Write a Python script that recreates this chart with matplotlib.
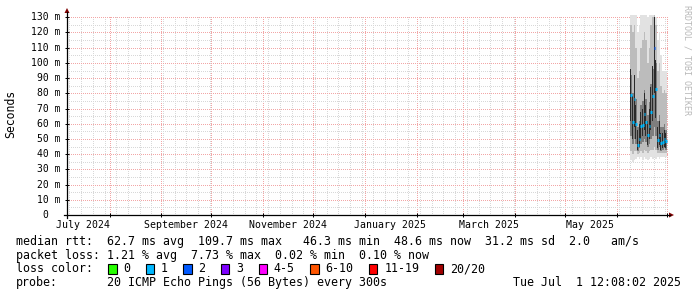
import datetime as dt
import numpy as np
import matplotlib
matplotlib.use('Agg')
import matplotlib.pyplot as plt
import matplotlib.dates as mdates
from matplotlib.lines import Line2D
from matplotlib.patches import Polygon, Rectangle

W, H = 697, 297

# --- data: one smoke column per day (values in ms) ---
days = ['2025-06-09', '2025-06-10', '2025-06-11', '2025-06-12', '2025-06-13',
        '2025-06-14', '2025-06-15', '2025-06-16', '2025-06-17', '2025-06-18',
        '2025-06-19', '2025-06-20', '2025-06-21', '2025-06-22', '2025-06-23',
        '2025-06-24', '2025-06-25', '2025-06-26', '2025-06-27', '2025-06-28',
        '2025-06-29', '2025-06-30']
median = [79, 61, 76, 60, 46, 50, 58.5, 59.5, 66.5, 61, 52.5,
          58.5, 68, 78, 109.7, 83, 49, 52.5, 47.5, 48, 50, 48.6]
ping_min = [36, 35, 36, 37, 38, 37, 38, 36, 38, 37, 36,
            37, 38, 37, 38, 37, 38, 37, 38, 38, 38, 38]
ping_p10 = [42, 40, 42, 42, 40, 41, 42, 41, 43, 42, 41,
            42, 43, 43, 45, 43, 41, 41, 41, 41, 41, 41]
ping_p25 = [52, 47, 50, 47, 42, 44, 47, 48, 50, 48, 45,
            47, 50, 52, 58, 52, 43, 45, 42, 43, 44, 43]
ping_p75 = [92, 80, 90, 76, 58, 62, 72, 75, 82, 76, 66,
            74, 86, 96, 125, 100, 62, 66, 58, 58, 60, 56]
ping_p90 = [125, 120, 125, 110, 90, 95, 110, 115, 120, 115, 100,
            110, 125, 130, 140, 125, 95, 100, 85, 80, 82, 80]
ping_max = [140, 140, 140, 135, 120, 125, 140, 140, 140, 140, 130,
            140, 140, 140, 140, 130, 115, 120, 105, 95, 95, 95]
core_lo = [62, 50, 58, 50, 43, 45, 50, 52, 56, 52, 46,
           50, 56, 62, 80, 64, 44, 46, 43, 44, 45, 44]
core_hi = [96, 78, 92, 72, 56, 60, 68, 70, 80, 72, 62,
           70, 84, 98, 130, 102, 58, 62, 54, 54, 56, 54]
lost = [1, 1, 1, 1, 1, 1, 1, 1, 1, 1, 1,
        1, 1, 1, 2, 1, 1, 1, 1, 1, 1, 1]

loss_labels = ['0', '1', '2', '3', '4-5', '6-10', '11-19', '20/20']
loss_colors = ['#26ff00', '#00b8ff', '#0059ff', '#7e00ff',
               '#ff00ff', '#ff5500', '#ff0000', '#a00000']

y_major = [10, 20, 30, 40, 50, 60, 70, 80, 90, 100, 110, 120, 130]
y_minor = [5, 15, 25, 35, 45, 55, 65, 75, 85, 95, 105, 115, 125]
y_labels = [0, 10, 20, 30, 40, 50, 60, 70, 80, 90, 100, 110, 120, 130]
month_labels = ['July 2024', 'September 2024', 'November 2024',
                'January 2025', 'March 2025', 'May 2025']
month_label_dates = ['2024-07-16', '2024-09-16', '2024-11-16',
                     '2025-01-16', '2025-03-16', '2025-05-16']

stats_line = 'median rtt:  62.7 ms avg  109.7 ms max   46.3 ms min  48.6 ms now  31.2 ms sd  2.0   am/s'
loss_line = 'packet loss: 1.21 % avg  7.73 % max  0.02 % min  0.10 % now'
probe_text = '20 ICMP Echo Pings (56 Bytes) every 300s'
stamp_text = 'Tue Jul  1 12:08:02 2025'

# --- time range: last 360 days up to the stamp ---
t_end = dt.datetime(2025, 7, 1, 12, 8, 2)
t_start = t_end - dt.timedelta(days=360)

MONO = 'DejaVu Sans Mono'
AXIS_RED = '#7f0000'


def fx(x):
    return x / W


def fy(y):
    # pixel rows counted from the top of the picture
    return 1 - y / H


fig = plt.figure(figsize=(W / 100, H / 100), dpi=100)
fig.patch.set_facecolor('white')
ax = fig.add_axes([fx(67), fy(215), fx(601), 200 / H])
ax.set_facecolor('white')
for s in ax.spines.values():
    s.set_visible(False)

ax.set_xlim(mdates.date2num(t_start), mdates.date2num(t_end))
ax.set_ylim(0, 131.5)

# grid: weekly minor, monthly major (red), dotted like rrdtool
ax.xaxis.set_major_locator(mdates.MonthLocator())
ax.xaxis.set_minor_locator(mdates.WeekdayLocator(byweekday=mdates.MO))
ax.set_yticks(y_major)
ax.set_yticks(y_minor, minor=True)
dot = (0, (1, 1.5))
ax.grid(which='minor', color='#d8d8d8', linestyle=dot, linewidth=0.72, antialiased=False)
ax.grid(which='major', color='#f2a6a6', linestyle=dot, linewidth=0.72, antialiased=False)
ax.set_axisbelow(True)
ax.tick_params(which='major', direction='inout', length=2.9, width=0.72,
               color='black', labelleft=False, labelbottom=False)
ax.tick_params(which='minor', length=0, labelleft=False, labelbottom=False)

# --- smoke ---
x = mdates.date2num(np.array(days, dtype='datetime64[D]').astype(dt.datetime))
lo = np.array(ping_min)
ax.bar(x, np.array(ping_max) - lo, bottom=lo, width=1, align='edge',
       color='#e2e2e2', linewidth=0, zorder=2)
ax.bar(x, np.array(ping_p90) - np.array(ping_p10), bottom=ping_p10, width=1,
       align='edge', color='#bcbcbc', linewidth=0, zorder=3)
ax.bar(x, np.array(ping_p75) - np.array(ping_p25), bottom=ping_p25, width=1,
       align='edge', color='#7e7e7e', linewidth=0, zorder=4)
ax.bar(x, np.array(core_hi) - np.array(core_lo), bottom=core_lo, width=0.45,
       align='edge', color='#2a2a2a', linewidth=0, zorder=4.5)

# median coloured by loss
for xi, m, l in zip(x, median, lost):
    ax.hlines(m, xi, xi + 1, colors=loss_colors[l], linewidth=2.2, zorder=5)

# --- axis lines and arrows ---
fig.add_artist(Line2D([fx(64), fx(670)], [fy(215), fy(215)], color='black', lw=0.9))
fig.add_artist(Line2D([fx(67), fx(67)], [fy(218), fy(12)], color='black', lw=0.9))
fig.add_artist(Polygon([[fx(669), fy(212.5)], [fx(674), fy(215)], [fx(669), fy(217.5)]],
                       closed=True, color=AXIS_RED, lw=0))
fig.add_artist(Polygon([[fx(64.5), fy(13)], [fx(67), fy(8)], [fx(69.5), fy(13)]],
                       closed=True, color=AXIS_RED, lw=0))

# y tick labels
for v in y_labels:
    ypix = 215 - v * 200 / 131.5
    if v == 0:
        fig.text(fx(48.5), fy(ypix), '0', ha='right', va='center',
                 family=MONO, fontsize=7)
    else:
        fig.text(fx(60.3), fy(ypix), f'{v} m', ha='right', va='center',
                 family=MONO, fontsize=7)

# month labels
xt = ax.get_xaxis_transform()
for lab, d in zip(month_labels, month_label_dates):
    ax.text(mdates.date2num(dt.datetime.fromisoformat(d)), -0.048, lab,
            transform=xt, ha='center', va='center', family=MONO, fontsize=7.1,
            clip_on=False)

fig.text(fx(11), fy(114), 'Seconds', rotation=90, ha='center', va='center',
         family=MONO, fontsize=8.3)
fig.text(fx(687), fy(5), 'RRDTOOL / TOBI OETIKER', rotation=270, ha='center',
         va='top', family=MONO, fontsize=6, color='#b8b8b8')

# --- legend block ---
leg = dict(family=MONO, fontsize=8.4, va='center', ha='left')
cw = 7.03
fig.text(fx(16), fy(241.5), stats_line, **leg)
fig.text(fx(16), fy(255), loss_line, **leg)
fig.text(fx(16), fy(269), 'loss color:', **leg)
bx = 108
for lab, col in zip(loss_labels, loss_colors):
    fig.add_artist(Rectangle((fx(bx), fy(273.5)), fx(8.5), 10 / H,
                             facecolor=col, edgecolor='black', lw=0.8))
    fig.text(fx(bx + 15.3), fy(269), lab, **leg)
    bx = bx + 15.3 + len(lab) * cw + 15.3
fig.text(fx(16), fy(282.7), 'probe:', **leg)
fig.text(fx(107.3), fy(282.7), probe_text, **leg)
fig.text(fx(681), fy(282.7), stamp_text, family=MONO, fontsize=8.4,
         va='center', ha='right')

fig.savefig('out.png', dpi=100, facecolor='white')
